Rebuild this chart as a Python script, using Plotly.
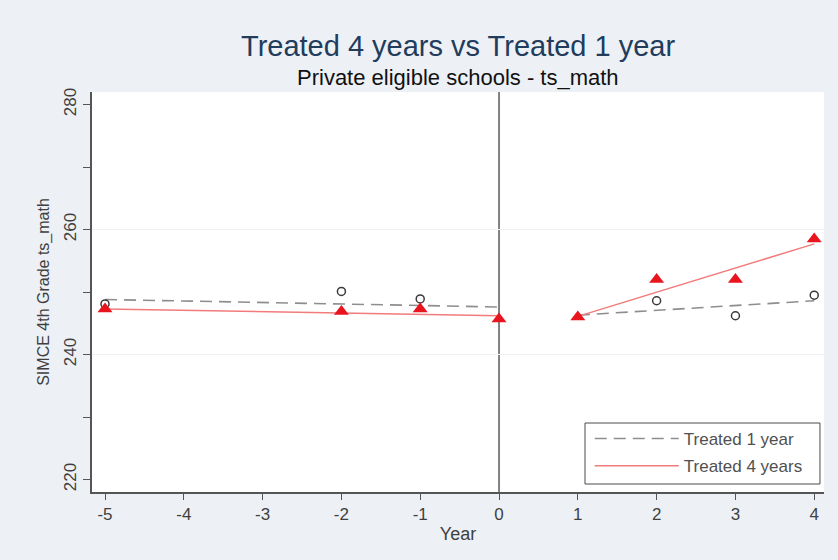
import plotly.graph_objects as go

# Observed mean scores by year relative to treatment
years_1yr = [-5, -2, -1, 2, 3, 4]
score_1yr = [248.1, 250.1, 248.9, 248.6, 246.2, 249.5]

years_4yr = [-5, -2, -1, 0, 1, 2, 3, 4]
score_4yr = [247.3, 246.9, 247.3, 245.7, 246.0, 252.0, 252.0, 258.5]

# Linear fits, before and after treatment (endpoints)
fit_pre_years = [-5, 0]
fit_post_years = [1, 4]
fit_pre_1yr = [248.8, 247.6]
fit_post_1yr = [246.3, 248.6]
fit_pre_4yr = [247.3, 246.2]
fit_post_4yr = [246.1, 257.7]

x_ticks = [-5, -4, -3, -2, -1, 0, 1, 2, 3, 4]
x_ticklabels = ["-5", "-4", "-3", "-2", "-1", "0", "1", "2", "3", "4"]
y_ticks = [220, 230, 240, 250, 260, 270, 280]
y_ticklabels = ["220", "", "240", "", "260", "", "280"]
y_grid = [240, 260]

GRAY_LINE = "#8e8e8e"
RED_LINE = "#f27b7b"
RED_MARK = "#e8141e"
AXIS = "#555555"
TEXT = "#3f3f3f"
FONT = "Liberation Sans, Arial, sans-serif"
DASH = "12px,7px"

fig = go.Figure()

# Fitted lines
fig.add_trace(go.Scatter(x=fit_pre_years, y=fit_pre_1yr, mode="lines",
                         line=dict(color=GRAY_LINE, width=1.6, dash=DASH),
                         name="Treated 1 year", legendgroup="a"))
fig.add_trace(go.Scatter(x=fit_post_years, y=fit_post_1yr, mode="lines",
                         line=dict(color=GRAY_LINE, width=1.6, dash=DASH),
                         name="Treated 1 year", legendgroup="a", showlegend=False))
fig.add_trace(go.Scatter(x=fit_pre_years, y=fit_pre_4yr, mode="lines",
                         line=dict(color=RED_LINE, width=1.5),
                         name="Treated 4 years", legendgroup="b"))
fig.add_trace(go.Scatter(x=fit_post_years, y=fit_post_4yr, mode="lines",
                         line=dict(color=RED_LINE, width=1.5),
                         name="Treated 4 years", legendgroup="b", showlegend=False))

# Observed points
fig.add_trace(go.Scatter(x=years_1yr, y=score_1yr, mode="markers",
                         marker=dict(symbol="circle-open", size=8,
                                     color="#3a3a3a", line=dict(width=1.5)),
                         showlegend=False))
fig.add_trace(go.Scatter(x=years_4yr, y=score_4yr, mode="markers",
                         marker=dict(symbol="triangle-up", size=13, color=RED_MARK,
                                     line=dict(width=0)),
                         showlegend=False))

# Reference line at treatment year and light grid at labelled ticks
shapes = [
    dict(type="line", xref="x", yref="paper", x0=0, x1=0, y0=0, y1=1,
         line=dict(color="#5a5a5a", width=1.5), layer="below")
]
shapes += [
    dict(type="line", xref="paper", yref="y", x0=0, x1=1, y0=g, y1=g,
         line=dict(color="#eef3f4", width=1), layer="below")
    for g in y_grid
]
# Legend frame
shapes.append(dict(type="rect", xref="paper", yref="paper",
                   x0=0.6735, x1=0.9945, y0=0.02, y1=0.1725,
                   line=dict(color="#4a4a4a", width=1), fillcolor="#ffffff",
                   layer="below"))

fig.update_layout(
    width=838, height=560,
    margin=dict(l=92, r=14, t=92, b=68),
    paper_bgcolor="#edf1f6",
    plot_bgcolor="#ffffff",
    font=dict(family=FONT, color=TEXT),
    shapes=shapes,
    showlegend=True,
    legend=dict(
        x=0.680, xanchor="left", y=0.02, yanchor="bottom",
        bgcolor="rgba(0,0,0,0)", borderwidth=0,
        font=dict(size=17, color="#505050", family=FONT),
        itemwidth=84, tracegroupgap=2,
    ),
    annotations=[
        dict(text="Treated 4 years vs Treated 1 year", xref="paper", yref="paper",
             x=0.5, y=1, yshift=64, showarrow=False,
             font=dict(size=29, color="#223c5c", family=FONT)),
        dict(text="Private eligible schools - ts_math", xref="paper", yref="paper",
             x=0.5, y=1, yshift=29, showarrow=False,
             font=dict(size=22, color="#111111", family=FONT)),
    ],
)

fig.update_xaxes(
    range=[-5.165, 4.124], tickvals=x_ticks, ticktext=x_ticklabels,
    ticks="outside", ticklen=6, tickwidth=1.3, tickcolor=AXIS, showline=True,
    linecolor=AXIS, linewidth=1.5, showgrid=False, zeroline=False,
    tickfont=dict(size=17, color=TEXT),
    title=dict(text="Year", font=dict(size=18, color=TEXT), standoff=4),
)
fig.update_yaxes(
    range=[218, 282], tickvals=y_ticks, ticktext=y_ticklabels, ticks="outside",
    ticklen=7, tickwidth=1.3, tickcolor=AXIS, showline=True, linecolor=AXIS,
    linewidth=1.5, showgrid=False, zeroline=False, tickangle=-90,
    tickfont=dict(size=17, color=TEXT),
    title=dict(text="SIMCE 4th Grade ts_math", font=dict(size=16, color=TEXT), standoff=8),
)

fig.write_html("out.html")
